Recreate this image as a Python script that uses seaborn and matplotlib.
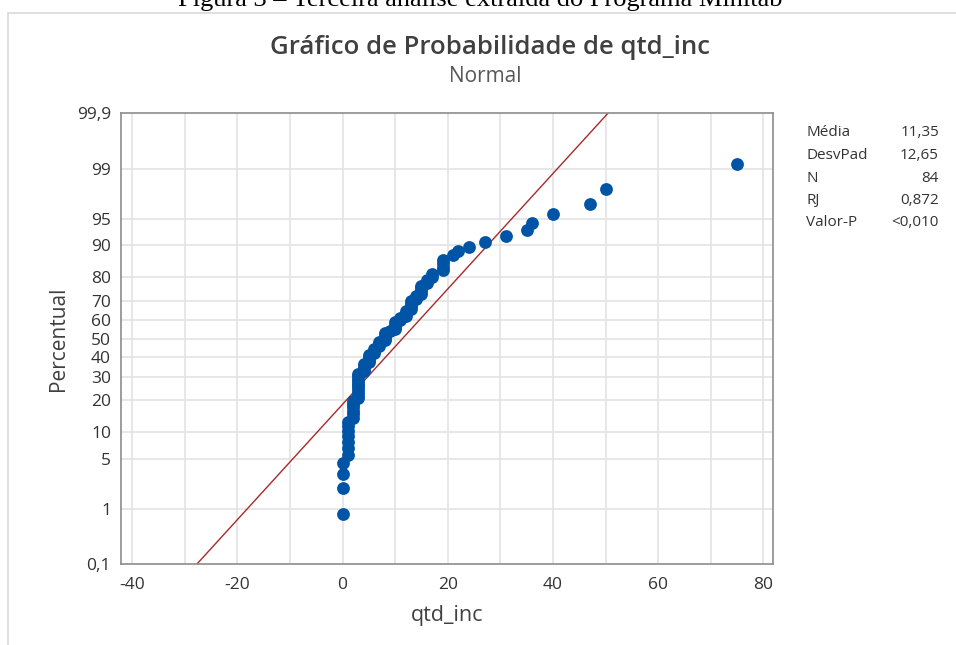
import numpy as np
import pandas as pd
import matplotlib
matplotlib.use("Agg")
import matplotlib.pyplot as plt
import seaborn as sns
from matplotlib.patches import Rectangle
from statistics import NormalDist

# valores (84 observações ordenadas)
qtd_inc = [0, 0, 0, 0,
           1, 1, 1, 1, 1, 1, 1,
           2, 2, 2, 2, 2, 2,
           3, 3, 3, 3, 3, 3, 3, 3, 3, 3,
           4, 4, 4, 4,
           5, 5, 5, 5,
           6, 6, 6,
           7, 7, 7,
           8, 8, 8, 8,
           9,
           10, 10, 10, 10,
           11, 11,
           12, 12, 12,
           13, 13, 13, 13,
           14, 14,
           15, 15, 15, 15,
           16, 16,
           17, 17,
           19, 19, 19, 19,
           21, 22, 24, 27, 31, 35, 36, 40, 47, 50, 75]
y_ticks_pct = [0.1, 1, 5, 10, 20, 30, 40, 50, 60, 70, 80, 90, 95, 99, 99.9]
x_ticks = [-40, -20, 0, 20, 40, 60, 80]
stat_names = ["Média", "DesvPad", "N", "RJ", "Valor-P"]
rj_txt = "0,872"
pvalor_txt = "<0,010"

nd = NormalDist()
dados = np.sort(np.array(qtd_inc, dtype=float))
n = len(dados)
media = dados.mean()
desvpad = dados.std(ddof=1)
# posições de plotagem (Benard)
pos = [(i - 0.3) / (n + 0.4) for i in range(1, n + 1)]
df = pd.DataFrame({"qtd_inc": dados, "z": [nd.inv_cdf(p) for p in pos]})

sns.set_style("white")
plt.rcParams["font.family"] = ["Open Sans", "DejaVu Sans"]

fig = plt.figure(figsize=(9.56, 6.45), dpi=100)
ax = fig.add_axes([120.7 / 956, 1 - 564.3 / 645, 652.6 / 956, 451 / 645])

z_lo = nd.inv_cdf(0.001)
z_hi = nd.inv_cdf(0.999)

# grade
for xv in range(-40, 90, 10):
    ax.axvline(xv, color="#E3E3E3", lw=1.2, zorder=0)
for p in y_ticks_pct[1:-1]:
    ax.axhline(nd.inv_cdf(p / 100), color="#E3E3E3", lw=1.2, zorder=0)

# reta ajustada
z_line = np.array([z_lo, z_hi])
ax.plot(media + desvpad * z_line, z_line, color="#A8292B", lw=1.0, zorder=2)

sns.scatterplot(data=df, x="qtd_inc", y="z", ax=ax, color="#0054A6",
                s=85, linewidth=0, zorder=3, clip_on=False)

ax.set_xlim(-42.2, 81.9)
ax.set_ylim(z_lo, z_hi)
ax.set_xticks(x_ticks)
ax.set_xticklabels([str(v) for v in x_ticks])
ax.set_yticks([nd.inv_cdf(p / 100) for p in y_ticks_pct])
ax.set_yticklabels([("%g" % p).replace(".", ",") for p in y_ticks_pct])
ax.tick_params(axis="both", direction="out", length=5, width=1, color="#8C8C8C",
               labelsize=12.5, labelcolor="#333333", pad=2)
ax.tick_params(axis="x", pad=4)
for sp in ax.spines.values():
    sp.set_color("#8C8C8C")
    sp.set_linewidth(1.2)

ax.set_xlabel("qtd_inc", fontsize=15.5, color="#404040", labelpad=9)
ax.set_ylabel("Percentual", fontsize=15, color="#404040", labelpad=6)

# títulos
fig.text(490 / 956, 1 - 47 / 645, "Gráfico de Probabilidade de qtd_inc", ha="center", va="center",
         fontsize=18.5, fontweight="semibold", color="#404040")
fig.text(485 / 956, 1 - 76 / 645, "Normal", ha="center", va="center",
         fontsize=15, color="#595959")

# tabela de estatísticas
valores = [("%.2f" % media).replace(".", ","), ("%.2f" % desvpad).replace(".", ","),
           str(n), rj_txt, pvalor_txt]
for k, (nome, val) in enumerate(zip(stat_names, valores)):
    yy = 1 - (133 + 22.5 * k) / 645
    fig.text(806 / 956, yy, nome, ha="left", va="center", fontsize=11, color="#333333")
    fig.text(939 / 956, yy, val, ha="right", va="center", fontsize=11, color="#333333")

# moldura e legenda da figura cortada
fig.patches.append(Rectangle((8 / 956, -0.1), 1.1, 1.1 - 12.5 / 645, transform=fig.transFigure,
                             fill=False, edgecolor="#D9D9D9", lw=1.2))
fig.text(480 / 956, 1 - 6 / 645, "Figura 3 – Terceira análise extraída do Programa Minitab",
         ha="center", va="baseline", fontsize=19, family="Liberation Serif", color="black")

fig.savefig("out.png", dpi=100)
plt.close(fig)
